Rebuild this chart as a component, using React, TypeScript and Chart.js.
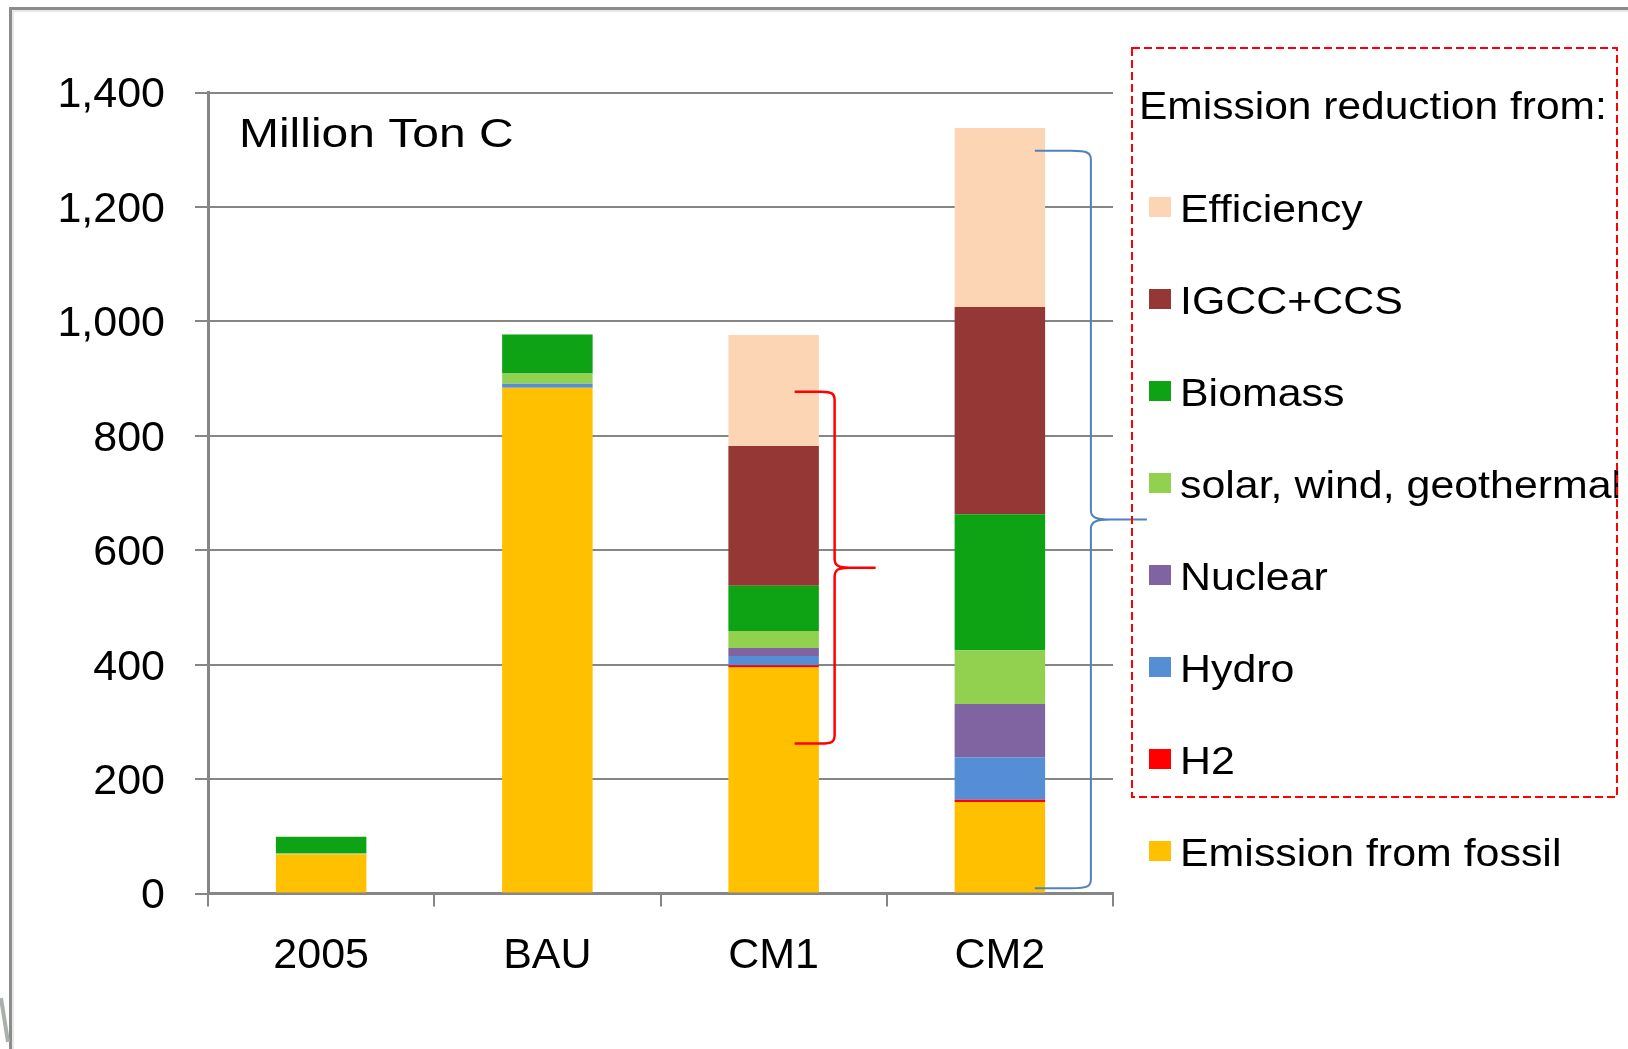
import React, { useEffect, useRef } from "react";
import { Chart, registerables } from "chart.js";

Chart.register(...registerables);

// ---- data ----
const categories = ["2005", "BAU", "CM1", "CM2"];
const fossil = [68, 884, 395, 160];
const h2 = [0, 0, 4, 4];
const hydro = [0, 7, 16, 74];
const nuclear = [0, 0, 14, 93];
const solarWindGeo = [2, 18, 30, 94];
const biomass = [29, 68, 79, 238];
const igccCcs = [0, 0, 244, 362];
const efficiency = [0, 0, 194, 313];

const seriesLabels = [
  "Emission from fossil",
  "H2",
  "Hydro",
  "Nuclear",
  "solar, wind, geothermal",
  "Biomass",
  "IGCC+CCS",
  "Efficiency",
];
const seriesColors = [
  "#FFC000",
  "#FF0000",
  "#558ED5",
  "#8064A2",
  "#92D050",
  "#0DA314",
  "#953735",
  "#FCD5B5",
];

const yMin = 0;
const yMax = 1400;
const yStep = 200;

const unitLabel = "Million Ton C";
const legendHeading = "Emission reduction from:";

// brace annotations: category index, top value, bottom value
const redBrace = { category: 2, top: 877, bottom: 262 };
const blueBrace = { category: 3, top: 1298, bottom: 9 };

const FONT = '"Liberation Sans", Arial, Helvetica, sans-serif';

function stretchedText(
  ctx: CanvasRenderingContext2D,
  text: string,
  x: number,
  y: number,
  size: number,
  sx = 1.1
) {
  ctx.save();
  ctx.translate(x, y);
  ctx.scale(sx, 1);
  ctx.font = `${size}px ${FONT}`;
  ctx.fillStyle = "#000";
  ctx.textBaseline = "alphabetic";
  ctx.textAlign = "left";
  ctx.fillText(text, 0, 0);
  ctx.restore();
}

function drawBrace(
  ctx: CanvasRenderingContext2D,
  x0: number,
  xv: number,
  xt: number,
  yTop: number,
  yBot: number,
  color: string,
  lw: number
) {
  const yMid = (yTop + yBot) / 2;
  const r = 9;
  const h = xv - x0;
  const t = xt - xv;
  ctx.save();
  ctx.strokeStyle = color;
  ctx.lineWidth = lw;
  ctx.lineJoin = "round";
  ctx.beginPath();
  ctx.moveTo(x0, yTop);
  ctx.lineTo(xv - h * 0.35, yTop);
  ctx.bezierCurveTo(xv - h * 0.05, yTop, xv, yTop + 2, xv, yTop + r);
  ctx.lineTo(xv, yMid - r);
  ctx.bezierCurveTo(xv, yMid - 2, xv + t * 0.1, yMid, xv + t * 0.35, yMid);
  ctx.lineTo(xt, yMid);
  ctx.moveTo(xv + t * 0.35, yMid);
  ctx.bezierCurveTo(xv + t * 0.1, yMid, xv, yMid + 2, xv, yMid + r);
  ctx.lineTo(xv, yBot - r);
  ctx.bezierCurveTo(xv, yBot - 2, xv - h * 0.05, yBot, xv - h * 0.35, yBot);
  ctx.lineTo(x0, yBot);
  ctx.stroke();
  ctx.restore();
}

const backgroundPlugin = {
  id: "bgFrame",
  beforeDraw(chart: any) {
    const ctx = chart.ctx as CanvasRenderingContext2D;
    ctx.save();
    ctx.fillStyle = "#ffffff";
    ctx.fillRect(0, 0, chart.width, chart.height);
    // outer frame (top & left)
    ctx.strokeStyle = "#8c8c8c";
    ctx.lineWidth = 3;
    ctx.beginPath();
    ctx.moveTo(10.5, chart.height);
    ctx.lineTo(10.5, 8.5);
    ctx.lineTo(chart.width, 8.5);
    ctx.stroke();
    ctx.strokeStyle = "#d0d0d0";
    ctx.lineWidth = 1;
    ctx.beginPath();
    ctx.moveTo(13, chart.height);
    ctx.lineTo(13, 11);
    ctx.lineTo(chart.width, 11);
    ctx.stroke();
    // small artifact at bottom-left
    ctx.strokeStyle = "#aab0aa";
    ctx.lineWidth = 4;
    ctx.beginPath();
    ctx.moveTo(1, 998);
    ctx.lineTo(8, 1042);
    ctx.stroke();
    ctx.restore();
  },
};

const overlayPlugin = {
  id: "overlay",
  afterDraw(chart: any) {
    const ctx = chart.ctx as CanvasRenderingContext2D;
    const xs = chart.scales.x;
    const ys = chart.scales.y;

    // unit label
    stretchedText(ctx, unitLabel, 239, 147, 41, 1.17);

    // braces
    const cRed = xs.getPixelForValue(redBrace.category);
    drawBrace(
      ctx,
      cRed + 21,
      cRed + 61,
      cRed + 102,
      ys.getPixelForValue(redBrace.top),
      ys.getPixelForValue(redBrace.bottom),
      "#FF0000",
      2.5
    );
    const cBlue = xs.getPixelForValue(blueBrace.category);
    drawBrace(
      ctx,
      cBlue + 35,
      cBlue + 91,
      cBlue + 147,
      ys.getPixelForValue(blueBrace.top),
      ys.getPixelForValue(blueBrace.bottom),
      "#4F81BD",
      2
    );

    // legend
    const ds = chart.data.datasets.slice().reverse();
    stretchedText(ctx, legendHeading, 1139, 119, 39, 1.09);
    const y0 = 208;
    const step = 92;
    ds.forEach((d: any, i: number) => {
      const cy = y0 + i * step;
      ctx.save();
      ctx.fillStyle = d.backgroundColor;
      ctx.fillRect(1149, cy - 11, 22, 20);
      ctx.restore();
      stretchedText(ctx, d.label, 1180, cy + 14, 39, 1.1);
    });

    // dashed legend box
    ctx.save();
    ctx.strokeStyle = "#FF0000";
    ctx.lineWidth = 2;
    ctx.setLineDash([8, 4]);
    ctx.strokeRect(1132, 48, 485, 749);
    ctx.restore();
  },
};

export default function App() {
  const canvasRef = useRef<HTMLCanvasElement | null>(null);

  useEffect(() => {
    const canvas = canvasRef.current;
    if (!canvas) return;
    const seriesData = [
      fossil,
      h2,
      hydro,
      nuclear,
      solarWindGeo,
      biomass,
      igccCcs,
      efficiency,
    ];
    const chart = new Chart(canvas, {
      type: "bar",
      data: {
        labels: categories,
        datasets: seriesData.map((arr, i) => ({
          label: seriesLabels[i],
          data: arr,
          backgroundColor: seriesColors[i],
          borderWidth: 0,
          barPercentage: 0.4,
          categoryPercentage: 1,
        })),
      },
      options: {
        responsive: false,
        animation: false,
        devicePixelRatio: 1,
        layout: { padding: { left: 0, top: 92.5, right: 515, bottom: 0 } },
        plugins: {
          legend: { display: false },
          tooltip: { enabled: false },
          title: { display: false },
        },
        scales: {
          x: {
            stacked: true,
            offset: true,
            grid: {
              display: true,
              offset: true,
              drawOnChartArea: false,
              drawTicks: true,
              tickLength: 13,
              color: "#868686",
              lineWidth: 2,
            },
            border: { display: true, color: "#868686", width: 3 },
            ticks: {
              color: "#000",
              font: { family: FONT, size: 43 },
              padding: 24,
              maxRotation: 0,
            },
            afterFit: (s: any) => {
              s.height = 155.5;
            },
          },
          y: {
            stacked: true,
            min: yMin,
            max: yMax,
            grid: {
              color: "#868686",
              lineWidth: 2,
              tickLength: 13,
              drawTicks: true,
            },
            border: { display: true, color: "#868686", width: 3 },
            ticks: {
              stepSize: yStep,
              color: "#000",
              font: { family: FONT, size: 43 },
              padding: 30,
              labelOffset: 3,
              callback: (v: any) => Number(v).toLocaleString("en-US"),
            },
            afterFit: (s: any) => {
              s.width = 208;
            },
          },
        },
      },
      plugins: [backgroundPlugin, overlayPlugin],
    });
    return () => chart.destroy();
  }, []);

  return (
    <div style={{ position: "absolute", left: 0, top: 0, width: 1628, height: 1049 }}>
      <canvas ref={canvasRef} width={1628} height={1049} />
    </div>
  );
}
